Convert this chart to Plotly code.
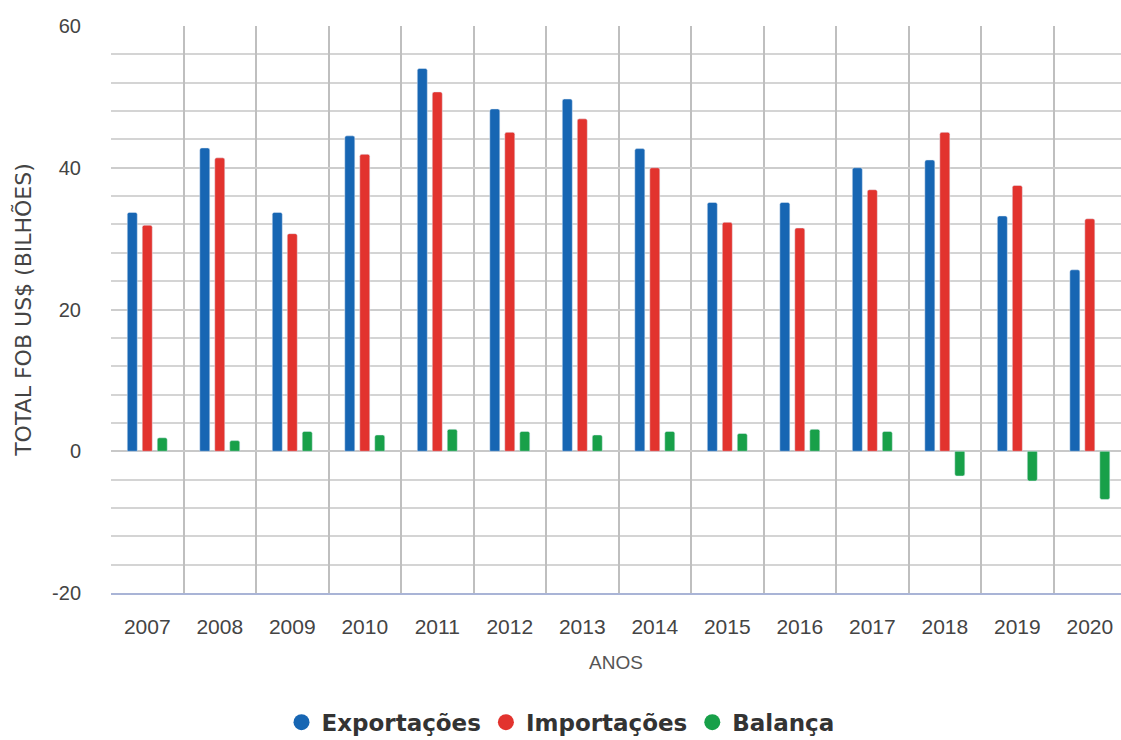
import plotly.graph_objects as go

anos = ["2007", "2008", "2009", "2010", "2011", "2012", "2013",
        "2014", "2015", "2016", "2017", "2018", "2019", "2020"]
exportacoes = [33.7, 42.8, 33.7, 44.5, 54.0, 48.3, 49.7,
               42.7, 35.1, 35.1, 40.0, 41.1, 33.2, 25.6]
importacoes = [31.9, 41.4, 30.7, 41.9, 50.7, 45.0, 46.9,
               40.0, 32.3, 31.5, 36.9, 45.0, 37.5, 32.8]
balanca = [1.9, 1.5, 2.8, 2.3, 3.1, 2.8, 2.3,
           2.8, 2.5, 3.1, 2.8, -3.5, -4.2, -6.8]
y_ticks = [-20, 0, 20, 40, 60]
y_labels = ["-20", "0", "20", "40", "60"]

series = [("Exportações", exportacoes, "#1766b3"),
          ("Importações", importacoes, "#e2332e"),
          ("Balança", balanca, "#18a049")]

fig = go.Figure()
for name, vals, col in series:
    fig.add_trace(go.Bar(x=anos, y=vals, name=name, marker_color=col,
                         marker_cornerradius=2, showlegend=False))
for name, vals, col in series:
    fig.add_trace(go.Scatter(x=[None], y=[None], mode="markers", name="<b>" + name + "</b>",
                             marker=dict(symbol="circle", size=22, color=col)))

font = "Liberation Sans, Arial, sans-serif"
fig.update_layout(
    width=1121, height=740,
    margin=dict(l=111, r=0, t=26, b=147),
    paper_bgcolor="white", plot_bgcolor="white",
    barmode="group", bargap=0.38, bargroupgap=0.33,
    font=dict(family=font, color="#444"),
    legend=dict(orientation="h", xref="container", yref="container",
                x=0.5, y=0.024, xanchor="center", yanchor="middle",
                font=dict(family="DejaVu Sans, sans-serif", size=23, color="#333"),
                itemwidth=30, tracegroupgap=0),
    xaxis=dict(type="category", tickson="boundaries", range=[-0.5, 13.43],
               showgrid=True, gridcolor="#bfbfbf", gridwidth=2,
               showline=True, linecolor="#a9b4d6", linewidth=2,
               ticks="", ticklabelstandoff=14,
               tickfont=dict(size=21, color="#444"),
               title=dict(text="ANOS", font=dict(size=19, color="#555"), standoff=18)),
    yaxis=dict(range=[-20, 60], tickvals=y_ticks, ticktext=y_labels,
               showgrid=True, gridcolor="#cdcdcd", gridwidth=2,
               minor=dict(dtick=4, showgrid=True, gridcolor="#d4d4d4", gridwidth=2),
               zeroline=True, zerolinecolor="#c8c8c8", zerolinewidth=1.5,
               ticks="", ticklabelstandoff=29,
               tickfont=dict(size=20, color="#444"),
               title=dict(text="TOTAL FOB US$ (BILHÕES)",
                          font=dict(family="DejaVu Sans, sans-serif", size=22, color="#444"),
                          standoff=14)),
)

fig.write_html("out.html")
